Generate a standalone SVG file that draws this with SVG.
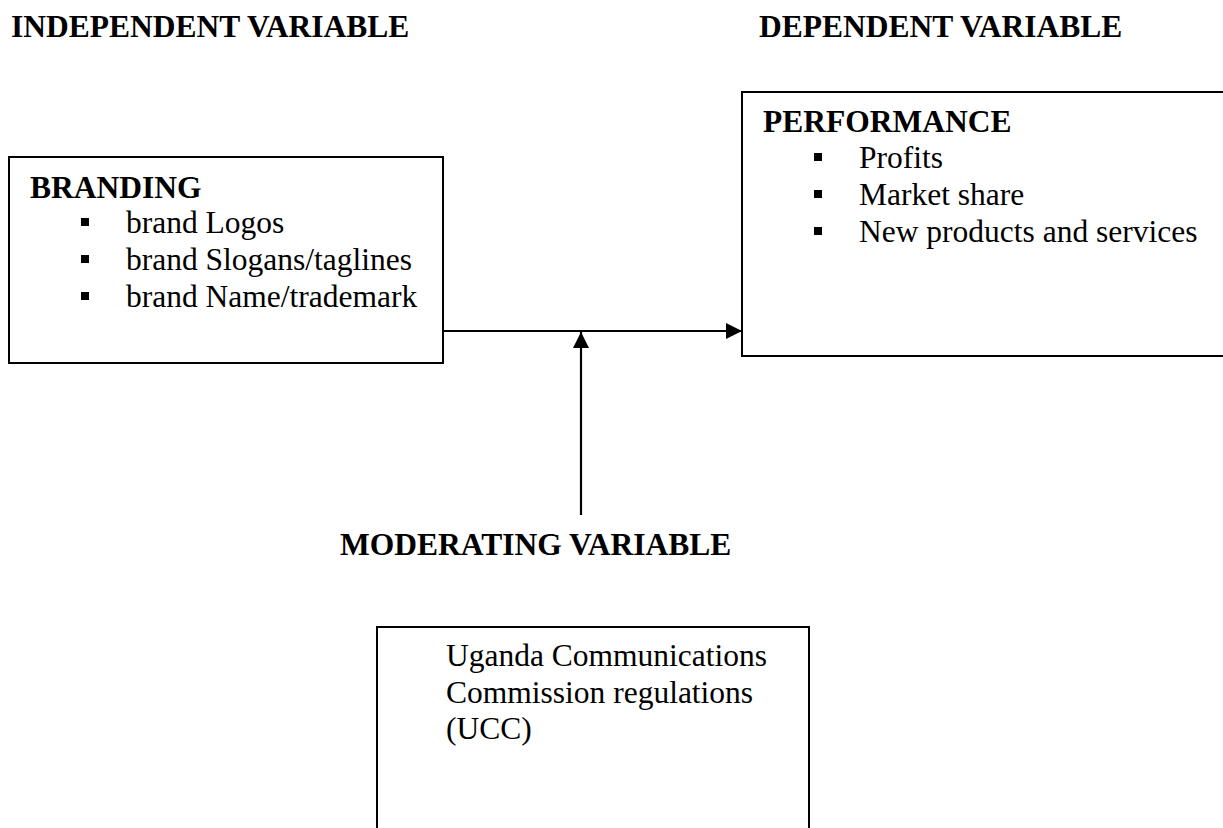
<svg xmlns="http://www.w3.org/2000/svg" width="1223" height="828" viewBox="0 0 1223 828">
<style>
text { font-family: "Liberation Serif", "Times New Roman", serif; font-size: 31.5px; fill: #000; }
.b { font-weight: bold; }
.box { fill: #fff; stroke: #000; stroke-width: 2; }
.bul { fill: #000; }
.conn { stroke: #000; stroke-width: 2.2; fill: none; }
</style>
<defs>
<marker id="arr" markerUnits="userSpaceOnUse" markerWidth="16" markerHeight="16" refX="16" refY="8" orient="auto">
<path d="M0,0 L16,8 L0,16 z" fill="#000"/>
</marker>
</defs>
<rect width="1223" height="828" fill="#fff"/>
<g id="header">
<text class="b" x="11" y="37">INDEPENDENT VARIABLE</text>
<text class="b" x="759" y="37">DEPENDENT VARIABLE</text>
</g>
<g id="connectors">
<line class="conn" x1="443" y1="331" x2="742" y2="331" marker-end="url(#arr)"/>
<line class="conn" x1="581" y1="515" x2="581" y2="332" marker-end="url(#arr)"/>
</g>
<g id="branding">
<rect class="box" x="9" y="157" width="434" height="206"/>
<text class="b" x="30" y="198">BRANDING</text>
<rect class="bul" x="81" y="218" width="8" height="8"/>
<text x="126" y="233">brand Logos</text>
<rect class="bul" x="81" y="255" width="8" height="8"/>
<text x="126" y="270">brand Slogans/taglines</text>
<rect class="bul" x="81" y="292" width="8" height="8"/>
<text x="126" y="307">brand Name/trademark</text>
</g>
<g id="performance">
<rect class="box" x="742" y="92" width="500" height="264"/>
<text class="b" x="763" y="132">PERFORMANCE</text>
<rect class="bul" x="814" y="153" width="8" height="8"/>
<text x="859" y="168">Profits</text>
<rect class="bul" x="814" y="190" width="8" height="8"/>
<text x="859" y="205">Market share</text>
<rect class="bul" x="814" y="227" width="8" height="8"/>
<text x="859" y="242">New products and services</text>
</g>
<g id="moderating-label">
<text class="b" x="340" y="555">MODERATING VARIABLE</text>
</g>
<g id="ucc">
<rect class="box" x="377" y="627" width="432" height="230"/>
<text x="446" y="666">Uganda Communications</text>
<text x="446" y="703">Commission regulations</text>
<text x="446" y="739">(UCC)</text>
</g>
</svg>
